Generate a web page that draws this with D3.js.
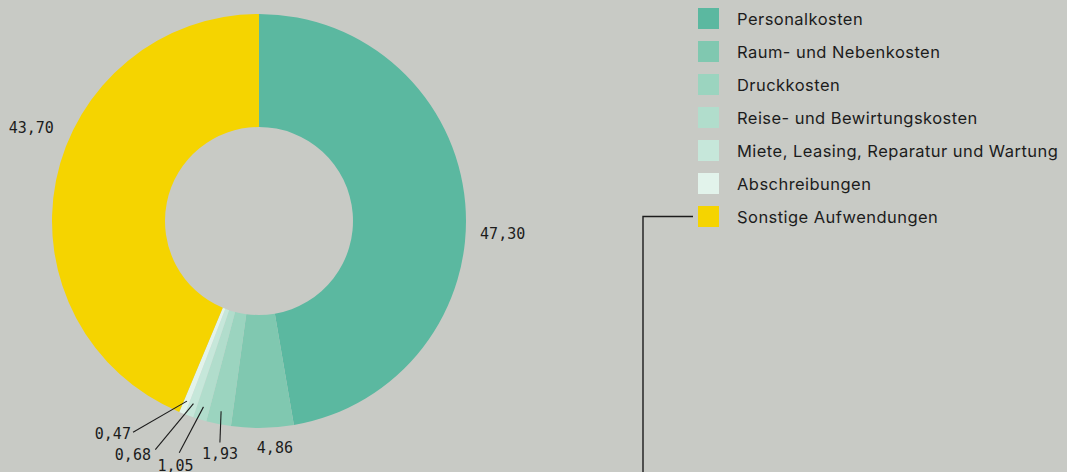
<!DOCTYPE html>
<html lang="de">
<head>
<meta charset="UTF-8">
<title>Aufwendungen</title>
<script src="https://d3js.org/d3.v7.min.js"></script>
<style>
  body { margin: 0; background: #c8cac5; }
  svg { display: block; }
  .lbl { font-family: "DejaVu Sans Mono", monospace; font-size: 15px; fill: #1c1c1c; }
  .leg { font-family: Inter, "Noto Sans", sans-serif; font-size: 16.5px; letter-spacing: 0.45px; fill: #1c1c1c; }
</style>
</head>
<body>
<script>
// Daten
const categories = ["Personalkosten", "Raum- und Nebenkosten", "Druckkosten",
  "Reise- und Bewirtungskosten", "Miete, Leasing, Reparatur und Wartung",
  "Abschreibungen", "Sonstige Aufwendungen"];
const values = [47.30, 4.86, 1.93, 1.05, 0.68, 0.47, 43.70];
const valueLabels = ["47,30", "4,86", "1,93", "1,05", "0,68", "0,47", "43,70"];
const colors = ["#5bb8a0", "#80c8b0", "#9bd4bf", "#b1ddcc", "#c6e7da", "#e2f3eb", "#f5d400"];

// label placement (angle in degrees from top, radius) - layout only
const labelAt = [[93, 244], [176, 228], [189.5, 236], [198.8, 259], [208.3, 266], [214.5, 258], [292.2, 246]];
const leaderEnd = [null, null, [190, 225], [199, 245], [204.4, 251], [210.8, 246], null];

const W = 1067, H = 472;
const cx = 259, cy = 221, rOut = 207, rIn = 94;

const svg = d3.select("body").append("svg")
  .attr("width", W).attr("height", H);

const pie = d3.pie().sort(null).value(d => d);
const arcs = pie(values);
const arc = d3.arc().innerRadius(rIn).outerRadius(rOut);

const g = svg.append("g").attr("transform", `translate(${cx},${cy})`);

g.selectAll("path")
  .data(arcs)
  .enter().append("path")
  .attr("d", arc)
  .attr("fill", (d, i) => colors[i]);

const polar = (deg, r) => {
  const a = deg * Math.PI / 180;
  return [Math.sin(a) * r, -Math.cos(a) * r];
};

// leader lines for the small slices
arcs.forEach((d, i) => {
  if (!leaderEnd[i]) return;
  const mid = (d.startAngle + d.endAngle) / 2 * 180 / Math.PI;
  const p0 = polar(mid, 194);
  const p1 = polar(leaderEnd[i][0], leaderEnd[i][1]);
  g.append("line")
    .attr("x1", p0[0]).attr("y1", p0[1])
    .attr("x2", p1[0]).attr("y2", p1[1])
    .attr("stroke", "#1c1c1c").attr("stroke-width", 1.1);
});

g.selectAll("text.lbl")
  .data(arcs)
  .enter().append("text")
  .attr("class", "lbl")
  .attr("x", (d, i) => polar(labelAt[i][0], labelAt[i][1])[0])
  .attr("y", (d, i) => polar(labelAt[i][0], labelAt[i][1])[1])
  .attr("text-anchor", "middle")
  .attr("dominant-baseline", "central")
  .text((d, i) => valueLabels[i]);

// Legende
const leg = svg.append("g").attr("transform", "translate(698,8)");
const rows = leg.selectAll("g")
  .data(categories)
  .enter().append("g")
  .attr("transform", (d, i) => `translate(0,${i * 33})`);

rows.append("rect")
  .attr("width", 21).attr("height", 21)
  .attr("fill", (d, i) => colors[i]);

rows.append("text")
  .attr("class", "leg")
  .attr("x", 39).attr("y", 17)
  .text(d => d);

// connector line from the last legend entry
const lastY = 8 + (categories.length - 1) * 33 + 10.5;
svg.append("path")
  .attr("d", `M693,${lastY}H643V${H + 5}`)
  .attr("fill", "none")
  .attr("stroke", "#1c1c1c")
  .attr("stroke-width", 1.4);
</script>
</body>
</html>
